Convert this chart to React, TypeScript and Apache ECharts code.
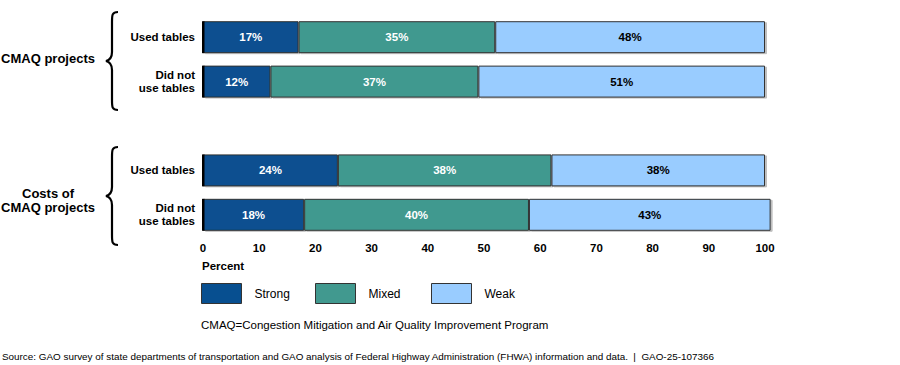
import React, { useEffect, useRef } from "react";
import * as echarts from "echarts";

const rowLabels = ["Used tables", "Did not\nuse tables", "", "Used tables", "Did not\nuse tables"];
const groupLabels = ["CMAQ projects", "Costs of\nCMAQ projects"];
const seriesNames = ["Strong", "Mixed", "Weak"];
const strong: (number | string)[] = [17, 12, "-", 24, 18];
const mixed: (number | string)[] = [35, 37, "-", 38, 40];
const weak: (number | string)[] = [48, 51, "-", 38, 43];
const colors = ["#074f90", "#41998f", "#99ccff"];
const labelColors = ["#ffffff", "#ffffff", "#000000"];
const xTicks = [0, 10, 20, 30, 40, 50, 60, 70, 80, 90, 100];
const footnote = "CMAQ=Congestion Mitigation and Air Quality Improvement Program";
const source =
  "Source: GAO survey of state departments of transportation and GAO analysis of Federal Highway Administration (FHWA) information and data.  |  GAO-25-107366";

const FONT = "'Liberation Sans', Arial, sans-serif";
const BAR_FRACTION = 0.72;

const bracePath =
  "M 13 0 C 7 0 7 3 7 10 L 7 40 C 7 45 5 48 1 49 C 5 50 7 53 7 58 L 7 88 C 7 95 7 98 13 98";

export default function App() {
  const ref = useRef<HTMLDivElement>(null);
  useEffect(() => {
    if (!ref.current) return;
    try {
      echarts.graphic.registerShape("brace", echarts.graphic.extendPath(bracePath, {}) as any);
    } catch (e) {}
    const chart = echarts.init(ref.current, null, { renderer: "svg" });
    const data = [strong, mixed, weak];
    const legendLefts = [201, 315, 431];
    const edgeData = strong
      .map((v, i) => (v === "-" ? null : [0, i]))
      .filter((d) => d !== null);
    const option: any = {
      animation: false,
      backgroundColor: "#ffffff",
      textStyle: { fontFamily: FONT },
      grid: { left: 203, right: 135, top: 15, height: 222, containLabel: false },
      xAxis: {
        type: "value",
        min: 0,
        max: xTicks[xTicks.length - 1],
        interval: 10,
        axisLine: { show: false },
        axisTick: { show: false },
        splitLine: { show: false },
        axisLabel: {
          fontFamily: FONT,
          fontWeight: "bold",
          fontSize: 11.5,
          color: "#000",
          margin: 5,
        },
      },
      yAxis: {
        type: "category",
        inverse: true,
        data: rowLabels,
        axisLine: { show: false },
        axisTick: { show: false },
        axisLabel: {
          fontFamily: FONT,
          fontWeight: "bold",
          fontSize: 11.5,
          lineHeight: 13,
          color: "#000",
          margin: 8,
          align: "right",
        },
      },
      legend: seriesNames.map((name, i) => ({
        left: legendLefts[i],
        top: 283,
        padding: 0,
        itemWidth: 40,
        itemHeight: 20,
        icon: "rect",
        data: [name],
        textStyle: {
          fontFamily: FONT,
          fontSize: 12,
          color: "#000",
          padding: [0, 0, 0, 8],
        },
        itemStyle: { borderColor: "#333", borderWidth: 1 },
      })),
      series: [
        ...seriesNames.map((name, i) => ({
          name,
          type: "bar",
          stack: "total",
          clip: false,
          barCategoryGap: "28%",
          data: data[i],
          itemStyle: {
            color: colors[i],
            borderColor: "#333",
            borderWidth: 1,
            shadowColor: "rgba(0,0,0,0.25)",
            shadowOffsetX: 2,
            shadowOffsetY: 1,
            shadowBlur: 0,
          },
          label: {
            show: true,
            position: "inside",
            formatter: "{c}%",
            fontFamily: FONT,
            fontWeight: "bold",
            fontSize: 11.5,
            color: labelColors[i],
          },
        })),
        {
          type: "custom",
          name: "edge",
          clip: false,
          silent: true,
          data: edgeData,
          z: 5,
          renderItem: (params: any, api: any) => {
            const p = api.coord([api.value(0), api.value(1)]);
            const band = api.size([0, 1])[1];
            const h = band * BAR_FRACTION;
            return {
              type: "rect",
              shape: { x: p[0] - 1, y: p[1] - h / 2, width: 2.5, height: h },
              style: { fill: "#000" },
            };
          },
        },
      ],
      graphic: [
        {
          type: "brace",
          x: 105,
          y: 12,
          style: { fill: "none", stroke: "#000", lineWidth: 2.2 },
        },
        {
          type: "brace",
          x: 105,
          y: 147,
          style: { fill: "none", stroke: "#000", lineWidth: 2.2 },
        },
        {
          type: "text",
          x: 48,
          y: 58,
          style: {
            text: groupLabels[0],
            font: `bold 13px ${FONT}`,
            fill: "#000",
            align: "center",
            verticalAlign: "middle",
          },
        },
        {
          type: "text",
          x: 48,
          y: 200,
          style: {
            text: groupLabels[1],
            font: `bold 13px ${FONT}`,
            lineHeight: 14,
            fill: "#000",
            align: "center",
            verticalAlign: "middle",
          },
        },
        {
          type: "text",
          x: 202,
          y: 266,
          style: {
            text: "Percent",
            font: `bold 11.5px ${FONT}`,
            fill: "#000",
            align: "left",
            verticalAlign: "middle",
          },
        },
        {
          type: "text",
          x: 201,
          y: 325,
          style: {
            text: footnote,
            font: `11.5px ${FONT}`,
            fill: "#000",
            align: "left",
            verticalAlign: "middle",
          },
        },
        {
          type: "text",
          x: 2,
          y: 356,
          style: {
            text: source,
            font: `9.9px ${FONT}`,
            fill: "#000",
            align: "left",
            verticalAlign: "middle",
          },
        },
      ],
    };
    chart.setOption(option);
    return () => chart.dispose();
  }, []);
  return (
    <div
      ref={ref}
      style={{ position: "fixed", left: 0, top: 0, width: 900, height: 365, background: "#fff" }}
    />
  );
}
